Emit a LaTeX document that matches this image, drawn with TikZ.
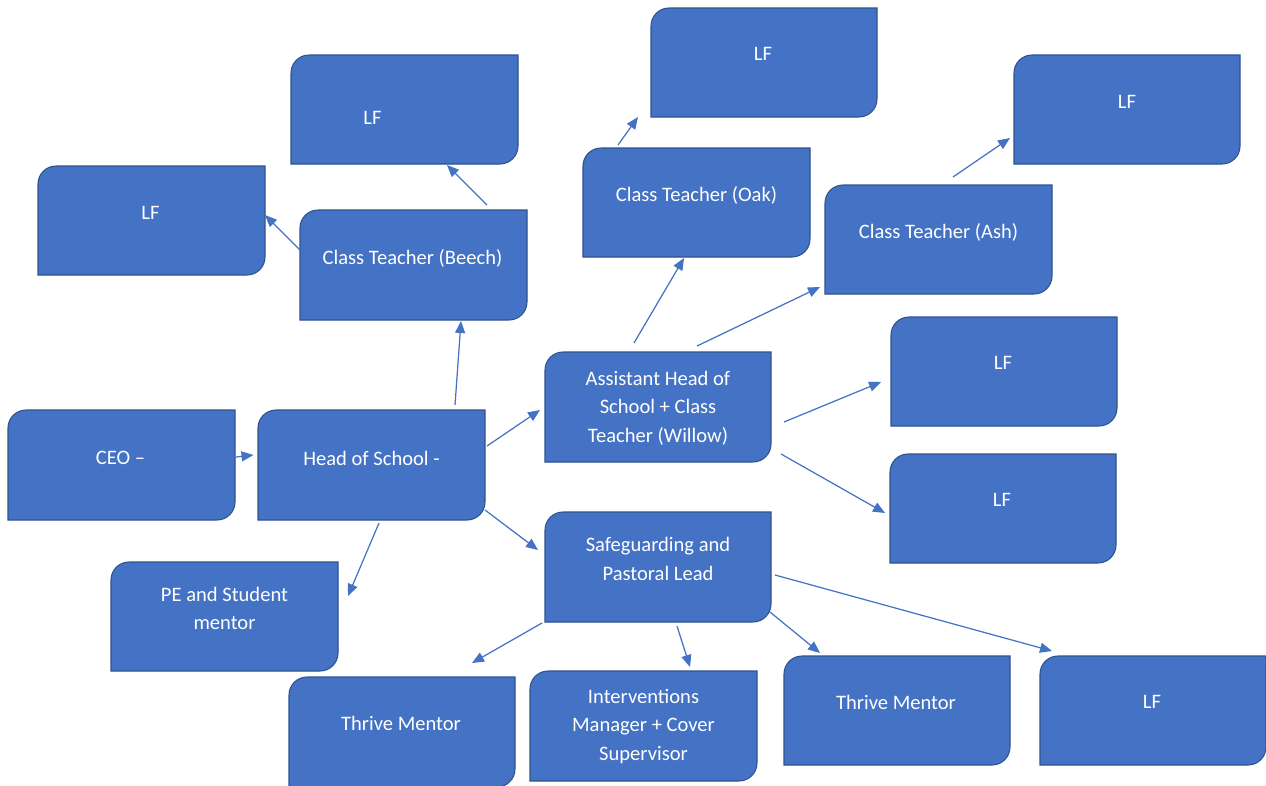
\documentclass[tikz,border=0pt]{standalone}
\usepackage{fontspec}
\setmainfont{Carlito}
\usetikzlibrary{arrows.meta,calc}
\definecolor{boxblue}{HTML}{4472C4}
\definecolor{boxedge}{HTML}{2F528F}
\newcommand{\OrgBox}[5]{%
  \node[frame, minimum width={(#4-#2)*0.02cm}, minimum height={(#5-#3)*0.02cm}] (#1) at ({(#2+#4)/2},{(#3+#5)/2}) {};
  \filldraw[boxshape] (#1.south west) -- ([yshift=-0.36cm]#1.north west)
    arc[start angle=180, end angle=90, radius=0.36cm] -- (#1.north east)
    -- ([yshift=0.36cm]#1.south east) arc[start angle=0, end angle=-90, radius=0.36cm] -- cycle;
}
\begin{document}
\begin{tikzpicture}[x=0.02cm, y=-0.02cm,
  frame/.style={rectangle, inner sep=0pt, outer sep=0pt},
  boxshape/.style={fill=boxblue, draw=boxedge, line width=0.6pt},
  txt/.style={text=white, align=center, inner sep=0pt, font=\fontsize{11.7}{16.2}\selectfont},
  arr/.style={draw=boxblue, line width=0.7pt, -{Triangle[length=0.24cm, width=0.2cm]}}]
\useasboundingbox (0,0) rectangle (1266,785);
\fill[white] (0,0) rectangle (1266,785);

\OrgBox{ceo}{8}{410}{235}{520}
\OrgBox{head}{258}{410}{485}{520}
\OrgBox{pe}{111}{562}{338}{671}
\OrgBox{beech}{300}{210}{527}{320}
\OrgBox{lfl}{38}{166}{265}{275}
\OrgBox{lfb}{291}{55}{518}{164}
\OrgBox{oak}{583}{148}{810}{257}
\OrgBox{lfo}{651}{8}{877}{117}
\OrgBox{ash}{825}{185}{1052}{294}
\OrgBox{lfa}{1014}{55}{1240}{164}
\OrgBox{asst}{545}{352}{771}{462}
\OrgBox{lfra}{891}{317}{1117}{426}
\OrgBox{lfrb}{890}{454}{1116}{563}
\OrgBox{safe}{545}{512}{771}{622}
\OrgBox{tma}{289}{677}{515}{787}
\OrgBox{int}{530}{671}{757}{781}
\OrgBox{tmb}{784}{656}{1010}{765}
\OrgBox{lfbr}{1040}{656}{1266}{765}

\node[txt] (ceo-t) at ($(ceo.center)+(-1,-7)$) {CEO –};
\node[txt] (head-t) at ($(head.center)+(0,-7)$) {Head of School -};
\node[txt] (pe-t) at ($(pe.center)+(0,-8)$) {PE and Student\\mentor};
\node[txt] (beech-t) at ($(beech.center)+(-1,-7)$) {Class Teacher (Beech)};
\node[txt] (lfl-t) at ($(lfl.center)+(-1,-7.5)$) {LF};
\node[txt] (lfb-t) at ($(lfb.center)+(-32,8.5)$) {LF};
\node[txt] (oak-t) at ($(oak.center)+(0,-7.5)$) {Class Teacher (Oak)};
\node[txt] (lfo-t) at ($(lfo.center)+(-1,-8.5)$) {LF};
\node[txt] (ash-t) at ($(ash.center)+(0,-7.5)$) {Class Teacher (Ash)};
\node[txt] (lfa-t) at ($(lfa.center)+(0,-7.5)$) {LF};
\node[txt] (asst-t) at ($(asst.center)+(0,1)$) {Assistant Head of\\School + Class\\Teacher (Willow)};
\node[txt] (lfra-t) at ($(lfra.center)+(-1,-8.5)$) {LF};
\node[txt] (lfrb-t) at ($(lfrb.center)+(-1,-8.5)$) {LF};
\node[txt] (safe-t) at ($(safe.center)+(0,-8)$) {Safeguarding and\\Pastoral Lead};
\node[txt] (tma-t) at ($(tma.center)+(-1,-9)$) {Thrive Mentor};
\node[txt] (int-t) at ($(int.center)+(0,0.5)$) {Interventions\\Manager + Cover\\Supervisor};
\node[txt] (tmb-t) at ($(tmb.center)+(-1,-8.5)$) {Thrive Mentor};
\node[txt] (lfbr-t) at ($(lfbr.center)+(-1,-8.5)$) {LF};

\draw[arr] ($(ceo.center)+(114.5,-8)$) -- ($(head.center)+(-118,-10)$);
\draw[arr] ($(head.center)+(83.5,-60)$) -- ($(beech.center)+(47.5,56)$);
\draw[arr] ($(beech.center)+(-113.5,-15)$) -- ($(lfl.center)+(113.5,-5.5)$);
\draw[arr] ($(beech.center)+(73.5,-60)$) -- ($(lfb.center)+(42.5,55.5)$);
\draw[arr] ($(head.center)+(7.5,58)$) -- ($(pe.center)+(123.5,-20.5)$);
\draw[arr] ($(head.center)+(115.5,-19)$) -- ($(asst.center)+(-118,3)$);
\draw[arr] ($(head.center)+(113.5,45)$) -- ($(safe.center)+(-120,-17)$);
\draw[arr] ($(asst.center)+(-24,-64)$) -- ($(oak.center)+(-12.5,55.5)$);
\draw[arr] ($(asst.center)+(39,-61)$) -- ($(ash.center)+(-118.5,47.5)$);
\draw[arr] ($(oak.center)+(-78.5,-57.5)$) -- ($(lfo.center)+(-126,54.5)$);
\draw[arr] ($(ash.center)+(14.5,-62.5)$) -- ($(lfa.center)+(-117,28.5)$);
\draw[arr] ($(asst.center)+(126,15)$) -- ($(lfra.center)+(-123,10.5)$);
\draw[arr] ($(asst.center)+(123,47)$) -- ($(lfrb.center)+(-118,4.5)$);
\draw[arr] ($(safe.center)+(-116,56)$) -- ($(tma.center)+(70,-69)$);
\draw[arr] ($(safe.center)+(19,59)$) -- ($(int.center)+(46.5,-59)$);
\draw[arr] ($(safe.center)+(112,45)$) -- ($(tmb.center)+(-77,-57.5)$);
\draw[arr] ($(safe.center)+(117,8)$) -- ($(lfbr.center)+(-101,-59.5)$);
\end{tikzpicture}
\end{document}
